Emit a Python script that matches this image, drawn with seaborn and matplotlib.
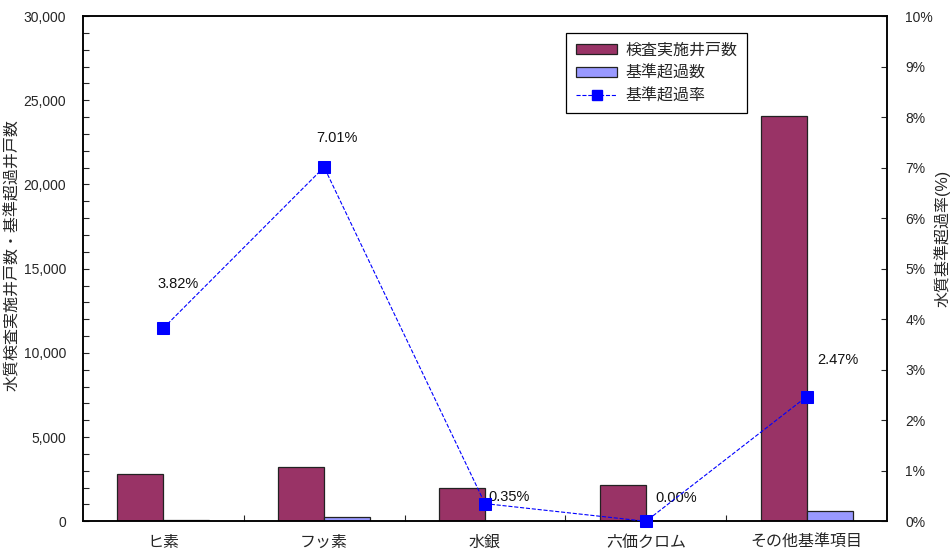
import numpy as np
import pandas as pd
import matplotlib
matplotlib.use("Agg")
import matplotlib.pyplot as plt
import seaborn as sns
from matplotlib.ticker import MultipleLocator, FuncFormatter
from matplotlib.patches import Patch
from matplotlib.lines import Line2D

# 項目別の水質検査結果
categories = ["ヒ素", "フッ素", "水銀", "六価クロム", "その他基準項目"]
inspected_wells = [2800, 3250, 1960, 2140, 24060]   # 検査実施井戸数
exceed_wells = [107, 228, 7, 0, 594]                # 基準超過数
exceed_rate = [3.82, 7.01, 0.35, 0.00, 2.47]        # 基準超過率(%)
series_names = ["検査実施井戸数", "基準超過数", "基準超過率"]

# ラベルのずらし量(ポイント)
label_offsets = [(11, 32), (9, 21), (17, 5), (22, 17), (22, 26)]

sns.set_style("white")
plt.rcParams["font.family"] = ["Liberation Sans", "Noto Sans CJK JP", "DejaVu Sans"]

df = pd.DataFrame({
    "項目": categories * 2,
    "系列": [series_names[0]] * len(categories) + [series_names[1]] * len(categories),
    "井戸数": inspected_wells + exceed_wells,
})

bar_colors = ["#993366", "#9999FF"]
line_color = "#0000FF"

fig, ax = plt.subplots(figsize=(9.51, 5.54), dpi=100)
fig.subplots_adjust(left=0.087, right=0.933, top=0.971, bottom=0.059)

sns.barplot(data=df, x="項目", y="井戸数", hue="系列", palette=bar_colors,
            width=0.572, edgecolor="#222222", linewidth=0.9, saturation=1,
            legend=False, ax=ax)

ax.set_xlim(-0.5, len(categories) - 0.5)
ax.set_ylim(0, 30000)
ax.yaxis.set_major_locator(MultipleLocator(5000))
ax.yaxis.set_minor_locator(MultipleLocator(1000))
ax.yaxis.set_major_formatter(FuncFormatter(lambda v, p: f"{v:,.0f}"))
ax.tick_params(axis="y", which="both", direction="in", length=4, width=0.8,
               left=True, labelsize=10, pad=12)
ax.set_xticks(np.arange(len(categories)))
ax.set_xticklabels(categories, fontsize=11.5)
ax.set_xticks(np.arange(len(categories) - 1) + 0.5, minor=True)
ax.tick_params(axis="x", which="major", length=0, pad=10)
ax.tick_params(axis="x", which="minor", direction="in", length=4, width=0.8, bottom=True)
ax.set_xlabel("")
ax.set_ylabel("水質検査実施井戸数・基準超過井戸数", fontsize=11.5)
ax.yaxis.set_label_coords(-0.078, 0.527)
for s in ax.spines.values():
    s.set_color("black")
    s.set_linewidth(1.1)

ax2 = ax.twinx()
x_pos = np.arange(len(categories))
sns.lineplot(x=x_pos, y=exceed_rate, ax=ax2, color=line_color, linestyle="--",
             linewidth=0.8, marker="s", markersize=8, markeredgecolor=line_color,
             clip_on=False, zorder=5)
ax2.set_ylim(0, 10)
ax2.set_xlim(-0.5, len(categories) - 0.5)
ax2.yaxis.set_major_locator(MultipleLocator(1))
ax2.yaxis.set_major_formatter(FuncFormatter(lambda v, p: f"{v:.0f}%"))
ax2.tick_params(axis="y", direction="in", length=4, width=0.8, right=True,
                labelsize=10, pad=13)
ax2.set_ylabel("水質基準超過率(%)", fontsize=11.5, rotation=90)
ax2.yaxis.set_label_coords(1.058, 0.56)
for s in ax2.spines.values():
    s.set_color("black")
    s.set_linewidth(1.1)

for xi, r, off in zip(x_pos, exceed_rate, label_offsets):
    ax2.annotate(f"{r:.2f}%", (xi, r), xytext=off, textcoords="offset points",
                 ha="center", va="center", fontsize=10.5, color="#111111")

handles = [
    Patch(facecolor=bar_colors[0], edgecolor="#222222", linewidth=0.9),
    Patch(facecolor=bar_colors[1], edgecolor="#222222", linewidth=0.9),
    Line2D([], [], color=line_color, linestyle="--", linewidth=0.8, marker="s",
           markersize=7, markeredgecolor=line_color),
]
leg = ax2.legend(handles, series_names, loc="upper left",
                 bbox_to_anchor=(0.601, 0.967), borderaxespad=0,
                 fontsize=11.5, frameon=True,
                 fancybox=False, edgecolor="black", framealpha=1,
                 handlelength=2.6, handleheight=0.6, borderpad=0.6,
                 labelspacing=0.5, handletextpad=0.5)
leg.get_frame().set_linewidth(0.9)

fig.savefig("out.png", dpi=100)
